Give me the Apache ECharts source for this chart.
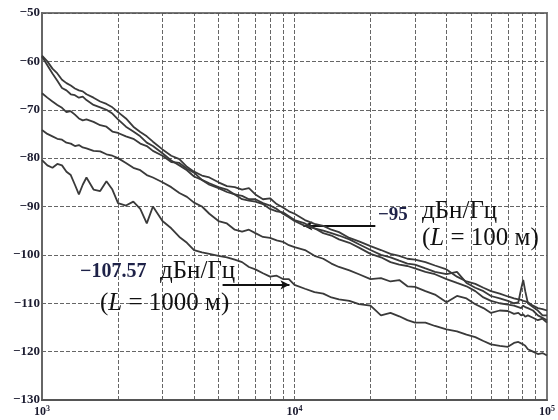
<!DOCTYPE html>
<html><head><meta charset="utf-8">
<script src="https://cdn.jsdelivr.net/npm/echarts@6.0.0/dist/echarts.min.js"></script>
<style>html,body{margin:0;padding:0;background:#fff}#c{width:558px;height:420px}</style>
</head><body><div id="c"></div>
<script>
const freqs = [1000,1050,1100,1150,1200,1250,1300,1350,1400,1450,
1500,1600,1700,1800,1900,2000,2150,2300,2450,2600,
2750,3000,3250,3500,3750,4000,4300,4600,5000,5400,
5800,6200,6600,7000,7500,8000,8500,9000,9500,10000,
11000,12000,13000,14000,15000,16500,18000,20000,22000,24000,
26000,28000,30000,33000,36000,40000,44000,48000,52000,56000,
60000,65000,70000,74000,77000,79000,80500,82000,84000,88000,
92000,96000,100000];

const curveA = [-58.8,-60.0,-61.5,-62.5,-63.8,-64.5,-65.0,-65.6,-66.0,-66.2,
-66.8,-67.5,-68.3,-68.8,-69.5,-70.5,-71.8,-73.5,-74.6,-75.5,
-76.6,-78.2,-79.5,-80.2,-81.8,-82.8,-83.6,-84.0,-85.0,-85.8,
-86.0,-86.5,-86.2,-87.5,-88.5,-88.3,-89.5,-90.2,-91.0,-91.5,
-92.8,-93.6,-94.0,-94.8,-95.3,-96.5,-97.2,-98.2,-99.0,-99.8,
-100.2,-100.8,-101.0,-101.5,-102.2,-103.0,-104.5,-105.5,-106.0,-106.8,
-107.5,-108.0,-108.6,-109.0,-109.2,-109.3,-109.5,-109.6,-109.8,-110.5,
-111.0,-111.2,-111.5];

const curveB = [-59.0,-60.8,-62.5,-64.0,-65.5,-66.0,-66.8,-67.0,-67.5,-67.3,
-68.0,-69.0,-69.5,-70.0,-70.8,-72.0,-73.5,-74.5,-75.5,-76.8,
-77.5,-79.0,-80.5,-81.5,-82.5,-83.8,-84.5,-85.5,-86.2,-87.0,
-87.5,-88.5,-88.8,-89.0,-89.5,-90.5,-91.0,-91.2,-92.0,-92.8,
-93.5,-94.5,-95.0,-95.5,-96.0,-96.8,-97.8,-99.0,-100.0,-100.5,
-101.2,-101.8,-102.0,-102.8,-103.5,-104.0,-103.5,-105.8,-106.8,-107.5,
-108.5,-109.0,-109.5,-110.0,-109.8,-107.0,-105.2,-107.5,-110.0,-110.8,
-111.5,-112.5,-112.5];

const curveD = [-66.6,-67.5,-68.3,-69.0,-69.6,-70.5,-70.3,-71.0,-71.8,-72.2,
-72.0,-72.5,-73.2,-73.5,-74.5,-74.8,-75.5,-76.0,-77.0,-77.5,
-78.5,-79.5,-80.8,-81.0,-82.2,-83.0,-84.5,-85.2,-86.0,-86.5,
-87.5,-87.8,-88.5,-88.5,-89.3,-89.8,-90.5,-91.5,-92.2,-93.0,
-94.0,-94.5,-95.5,-96.0,-96.8,-97.5,-98.5,-99.8,-100.5,-101.5,
-102.0,-102.3,-102.8,-103.5,-104.0,-105.0,-105.8,-106.5,-107.5,-108.8,
-109.5,-110.0,-110.3,-110.5,-110.8,-111.0,-110.5,-110.8,-111.0,-111.5,
-112.5,-113.0,-113.5];

const curveE = [-74.2,-75.0,-75.5,-76.0,-76.2,-76.8,-77.0,-77.5,-77.3,-77.8,
-78.0,-78.5,-78.6,-79.2,-79.5,-80.0,-81.0,-82.0,-82.5,-83.5,
-84.0,-85.0,-86.0,-87.2,-88.0,-89.2,-90.0,-91.5,-93.0,-93.5,
-94.8,-95.2,-94.8,-95.5,-96.3,-96.5,-97.0,-97.3,-98.0,-98.4,
-99.0,-100.2,-100.8,-101.8,-102.5,-103.2,-104.0,-105.0,-104.8,-105.5,
-105.2,-106.5,-106.6,-107.5,-108.2,-109.8,-108.5,-109.0,-110.2,-111.0,
-112.0,-111.5,-111.6,-112.2,-112.0,-112.5,-112.3,-112.8,-112.5,-113.0,
-113.5,-113.2,-114.0];

const curveF = [-80.4,-81.5,-82.0,-81.2,-81.5,-82.8,-83.5,-85.5,-87.5,-85.5,
-84.0,-86.5,-86.8,-84.8,-86.5,-89.3,-89.8,-89.0,-90.5,-93.5,
-90.0,-93.0,-94.5,-96.3,-97.5,-99.0,-99.5,-99.8,-100.2,-100.5,
-101.0,-101.5,-102.5,-103.0,-103.8,-104.5,-104.3,-105.0,-105.0,-106.2,
-107.0,-107.7,-108.0,-108.8,-109.2,-109.5,-110.2,-110.5,-112.5,-112.0,
-112.7,-113.5,-114.0,-114.0,-114.7,-115.4,-115.8,-116.5,-117.0,-117.8,
-118.5,-118.8,-119.0,-118.2,-118.0,-118.3,-118.5,-118.8,-119.5,-120.0,
-120.5,-120.3,-120.8];

const yTicks = [-130,-120,-110,-100,-90,-80,-70,-60,-50];
const xGridFreqs = [2000,3000,4000,5000,6000,7000,8000,9000,10000,
20000,30000,40000,50000,60000,70000,80000,90000];

// annotation arrows: [freqStart, freqEnd, level]
const arrow100 = [10840, 20900, -94.0];
const arrow1000 = [5190, 9550, -106.2];

const curves = [curveA, curveB, curveD, curveE, curveF];
const serif = "'Liberation Serif','Times New Roman',serif";

const chart = echarts.init(document.getElementById('c'), null, {renderer: 'canvas'});

const series = curves.map(function (c) {
  return {
    type: 'line',
    data: freqs.map(function (f, i) { return [f, c[i]]; }),
    showSymbol: false,
    smooth: false,
    lineStyle: {color: '#3a3a3a', width: 1.8},
    z: 5,
    silent: true
  };
});

series.push({
  type: 'line',
  data: [],
  silent: true,
  markLine: {
    silent: true,
    symbol: ['none', 'none'],
    label: {show: false},
    lineStyle: {color: '#555', width: 1, type: [4, 2], opacity: 0.9},
    data: xGridFreqs.map(function (f) { return {xAxis: f}; })
  },
  z: 1
});

series.push({
  type: 'line',
  data: [],
  silent: true,
  markLine: {
    silent: true,
    symbol: ['arrow', 'none'],
    symbolSize: [7, 9],
    label: {show: false},
    lineStyle: {color: '#111', width: 2, type: 'solid'},
    data: [[{coord: [arrow100[0], arrow100[2]]}, {coord: [arrow100[1], arrow100[2]]}]]
  },
  z: 6
});

series.push({
  type: 'line',
  data: [],
  silent: true,
  markLine: {
    silent: true,
    symbol: ['none', 'arrow'],
    symbolSize: [7, 9],
    label: {show: false},
    lineStyle: {color: '#111', width: 2, type: 'solid'},
    data: [[{coord: [arrow1000[0], arrow1000[2]]}, {coord: [arrow1000[1], arrow1000[2]]}]]
  },
  z: 6
});

chart.setOption({
  animation: false,
  backgroundColor: '#fff',
  grid: {left: 42, right: 4, top: 13, bottom: 20, show: true, borderColor: '#777', borderWidth: 2, backgroundColor: 'transparent'},
  xAxis: {
    type: 'log', logBase: 10, min: 1000, max: 100000,
    axisLine: {show: true, lineStyle: {color: '#555', width: 2}},
    axisTick: {show: false},
    splitLine: {show: false},
    axisLabel: {
      margin: 5,
      formatter: function (v) { return '{b|10}{s|' + Math.round(Math.log10(v)) + '}'; },
      rich: {
        b: {fontFamily: serif, fontWeight: 'bold', fontSize: 12, color: '#1c1c30'},
        s: {fontFamily: serif, fontWeight: 'bold', fontSize: 8, color: '#1c1c30', verticalAlign: 'top', padding: [0, 0, 6, 0]}
      }
    }
  },
  yAxis: {
    type: 'value', min: -130, max: -50, interval: 10,
    axisLine: {show: true, lineStyle: {color: '#666', width: 2}},
    axisTick: {show: false},
    splitLine: {show: true, lineStyle: {color: '#555', width: 1, type: [4, 2], opacity: 0.9}},
    axisLabel: {
      margin: 2,
      fontFamily: serif, fontWeight: 'bold', fontSize: 13, color: '#1c1c30',
      formatter: function (v) { return String(v).replace('-', '\u2212'); }
    }
  },
  series: series,
  graphic: [
    {type: 'text', left: 378, top: 206, z: 10, style: {text: '\u221295', font: 'bold 19px ' + serif, fill: '#1e2248'}},
    {type: 'text', left: 422, top: 199, z: 10, style: {text: 'дБн/Гц', font: '25px ' + serif, fill: '#111'}},
    {type: 'text', left: 422, top: 226, z: 10, style: {
      text: '({i|L} = 100 м)', font: '25px ' + serif, fill: '#111',
      rich: {i: {fontStyle: 'italic', fontFamily: serif, fontSize: 25, color: '#111'}}
    }},
    {type: 'text', left: 80, top: 262, z: 10, style: {text: '\u2212107.57', font: 'bold 20px ' + serif, fill: '#1e2248'}},
    {type: 'text', left: 160, top: 259, z: 10, style: {text: 'дБн/Гц', font: '25px ' + serif, fill: '#111'}},
    {type: 'text', left: 100, top: 291, z: 10, style: {
      text: '({i|L} = 1000 м)', font: '25px ' + serif, fill: '#111',
      rich: {i: {fontStyle: 'italic', fontFamily: serif, fontSize: 25, color: '#111'}}
    }}
  ]
});
</script>
</body></html>
